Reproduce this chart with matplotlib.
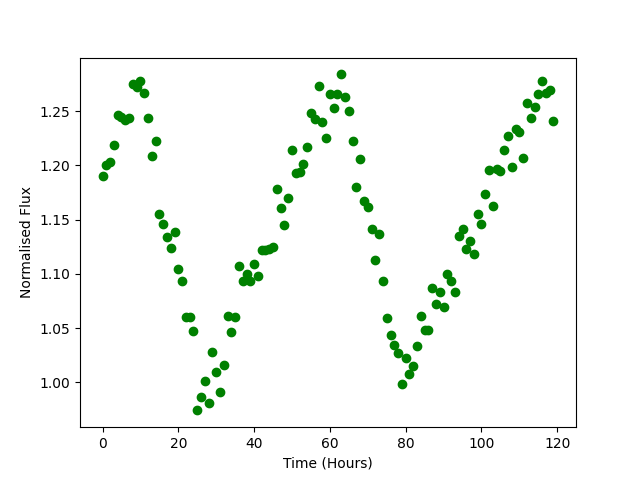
import matplotlib
matplotlib.use("Agg")
import matplotlib.pyplot as plt

hours = list(range(120))
flux = [
    1.190, 1.200, 1.203, 1.219, 1.247, 1.245, 1.242, 1.244, 1.275, 1.272,
    1.278, 1.267, 1.244, 1.209, 1.223, 1.155, 1.146, 1.134, 1.124, 1.139,
    1.104, 1.093, 1.060, 1.060, 1.047, 0.974, 0.986, 1.001, 0.981, 1.028,
    1.009, 0.991, 1.016, 1.061, 1.046, 1.060, 1.107, 1.093, 1.100, 1.093,
    1.109, 1.098, 1.122, 1.122, 1.123, 1.125, 1.178, 1.161, 1.145, 1.170,
    1.214, 1.193, 1.194, 1.201, 1.217, 1.248, 1.243, 1.273, 1.240, 1.225,
    1.266, 1.253, 1.266, 1.284, 1.263, 1.250, 1.223, 1.180, 1.206, 1.167,
    1.162, 1.141, 1.113, 1.137, 1.093, 1.059, 1.044, 1.034, 1.027, 0.998,
    1.022, 1.008, 1.015, 1.033, 1.061, 1.048, 1.048, 1.087, 1.072, 1.083,
    1.069, 1.100, 1.093, 1.083, 1.135, 1.141, 1.123, 1.130, 1.118, 1.155,
    1.146, 1.174, 1.196, 1.163, 1.197, 1.195, 1.214, 1.227, 1.199, 1.234,
    1.231, 1.207, 1.258, 1.244, 1.254, 1.266, 1.278, 1.267, 1.270, 1.241,
]

fig = plt.figure(figsize=(6.4, 4.8), dpi=100)
plt.plot(hours, flux, "go")
plt.xlabel("Time (Hours)")
plt.ylabel("Normalised Flux")
plt.savefig("out.png")
